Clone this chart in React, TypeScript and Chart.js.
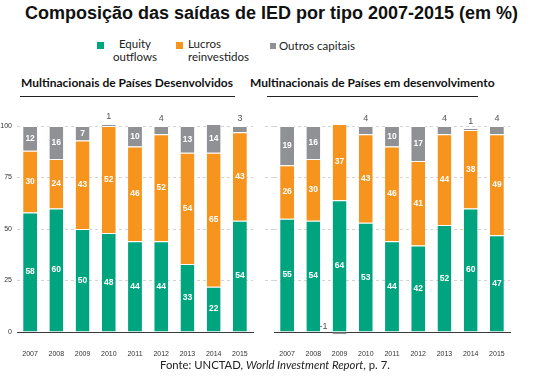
import React, { useEffect, useRef } from 'react';
import { Chart, registerables } from 'chart.js';

Chart.register(...registerables);

const years = ['2007', '2008', '2009', '2010', '2011', '2012', '2013', '2014', '2015'];
const yTicks = [0, 25, 50, 75, 100];

const devEquity = [58, 60, 50, 48, 44, 44, 33, 22, 54];
const devLucros = [30, 24, 43, 52, 46, 52, 54, 65, 43];
const devOutros = [12, 16, 7, 1, 10, 4, 13, 14, 3];

const emgEquity = [55, 54, 64, 53, 44, 42, 52, 60, 47];
const emgLucros = [26, 30, 37, 43, 46, 41, 44, 38, 49];
const emgOutros = [19, 16, -1, 4, 10, 17, 4, 1, 4];

const GREEN = '#00a47f';
const ORANGE = '#f7941d';
const GRAY = '#909195';

const SANS = "'Liberation Sans', Arial, sans-serif";
const NARROW = "'Liberation Sans Narrow', 'Liberation Sans', Arial, sans-serif";
const UI = "Lato, 'Open Sans', sans-serif";

const labelPlugin = {
  id: 'segLabels',
  afterDatasetsDraw(chart: any) {
    const ctx = chart.ctx;
    ctx.save();
    ctx.textBaseline = 'middle';
    chart.data.datasets.forEach((ds: any, di: number) => {
      const meta = chart.getDatasetMeta(di);
      meta.data.forEach((el: any, i: number) => {
        const v = ds.data[i] as number;
        const p = el.getProps(['x', 'y', 'base', 'width'], true);
        if (Math.abs(v) >= 5) {
          ctx.fillStyle = '#ffffff';
          ctx.font = `bold 8.5px ${NARROW}`;
          ctx.textAlign = 'center';
          ctx.fillText(String(v), p.x, (p.y + p.base) / 2);
        } else if (v < 0) {
          ctx.fillStyle = '#555555';
          ctx.font = `9px ${NARROW}`;
          ctx.textAlign = 'right';
          ctx.fillText(String(v), p.x - p.width / 2 - 5, p.base - 6);
        } else {
          ctx.fillStyle = '#555555';
          ctx.font = `9px ${NARROW}`;
          ctx.textAlign = 'center';
          ctx.fillText(String(v), p.x, p.y - 7);
        }
      });
    });
    ctx.restore();
  },
};

function BarPanel(props: { equity: number[]; lucros: number[]; outros: number[]; showY: boolean; width: number }) {
  const ref = useRef<HTMLCanvasElement>(null);
  useEffect(() => {
    const common = {
      borderColor: '#ffffff',
      borderWidth: { top: 1, left: 0, right: 0, bottom: 0 },
      barPercentage: 0.53,
      categoryPercentage: 1,
      clip: false as any,
    };
    const chart = new Chart(ref.current as HTMLCanvasElement, {
      type: 'bar',
      data: {
        labels: years,
        datasets: [
          { label: 'Equity outflows', data: props.equity, backgroundColor: GREEN, ...common },
          { label: 'Lucros reinvestidos', data: props.lucros, backgroundColor: ORANGE, ...common },
          { label: 'Outros capitais', data: props.outros, backgroundColor: GRAY, ...common },
        ],
      },
      options: {
        responsive: false,
        animation: false,
        layout: { padding: { top: 16, right: props.width - (props.showY ? 253 : 245), left: 0, bottom: 0 } },
        plugins: { legend: { display: false }, tooltip: { enabled: false } },
        scales: {
          x: {
            stacked: true,
            grid: { display: false },
            border: { display: true, color: '#3a3a3a', width: 1 },
            ticks: { color: '#333333', font: { size: 7, family: NARROW }, padding: 10, maxRotation: 0 },
            afterFit: (s: any) => {
              s.height = 28;
            },
          },
          y: {
            stacked: true,
            min: 0,
            max: 100,
            afterBuildTicks: (s: any) => {
              s.ticks = yTicks.map((v) => ({ value: v }));
            },
            ticks: { display: props.showY, color: '#333333', font: { size: 7, family: NARROW }, padding: 5 },
            afterFit: (s: any) => {
              s.width = props.showY ? 17 : 9;
            },
            grid: {
              color: (c: any) => (c.tick && c.tick.value === 0 ? 'rgba(0,0,0,0)' : '#d4d4d4'),
              drawTicks: !props.showY,
              tickLength: 9,
              tickBorderDash: [3, 3],
            },
            border: { display: false, dash: [3, 3] },
          },
        },
      },
      plugins: [labelPlugin],
    });
    return () => chart.destroy();
  }, []);
  return <canvas ref={ref} width={props.width} height={250} style={{ width: props.width, height: 250, display: 'block' }} />;
}

const abs = (left: number, top: number, extra: React.CSSProperties = {}): React.CSSProperties => ({
  position: 'absolute',
  left,
  top,
  whiteSpace: 'nowrap',
  ...extra,
});

export default function App() {
  return (
    <div style={{ position: 'absolute', left: 0, top: 0, width: 550, height: 378, background: '#fff', overflow: 'hidden' }}>
      <div
        style={abs(0, 4, {
          width: 543,
          textAlign: 'center',
          fontFamily: SANS,
          fontWeight: 'bold',
          fontSize: 18,
          lineHeight: '18px',
          color: '#111',
        })}
      >
        Composição das saídas de IED por tipo 2007-2015 (em %)
      </div>

      <div style={abs(97, 42, { width: 7, height: 7, background: GREEN })} />
      <div style={abs(113, 37, { fontFamily: UI, fontSize: 11.5, lineHeight: '13px', color: '#222', textAlign: 'center' })}>
        Equity
        <br />
        outflows
      </div>
      <div style={abs(176, 42, { width: 7, height: 7, background: ORANGE })} />
      <div style={abs(188, 37, { fontFamily: UI, fontSize: 11.5, lineHeight: '13px', color: '#222' })}>
        Lucros
        <br />
        reinvestidos
      </div>
      <div style={abs(270, 43, { width: 6, height: 6, background: GRAY })} />
      <div style={abs(279, 39, { fontFamily: UI, fontSize: 11.5, lineHeight: '13px', color: '#222' })}>Outros capitais</div>

      <div style={abs(21, 77, { fontFamily: UI, fontWeight: 'bold', fontSize: 12, lineHeight: '12px', color: '#111' })}>
        Multinacionais de Países Desenvolvidos
      </div>
      <div style={abs(20, 96, { width: 215, height: 1, background: '#222' })} />
      <div style={abs(250, 77, { fontFamily: UI, fontWeight: 'bold', fontSize: 12, lineHeight: '12px', color: '#111' })}>
        Multinacionais de Países em desenvolvimento
      </div>
      <div style={abs(267, 96, { width: 211, height: 1, background: '#222' })} />

      <div style={abs(0, 110, { width: 275, height: 250 })}>
        <BarPanel equity={devEquity} lucros={devLucros} outros={devOutros} showY={true} width={275} />
      </div>
      <div style={abs(265, 110, { width: 285, height: 250 })}>
        <BarPanel equity={emgEquity} lucros={emgLucros} outros={emgOutros} showY={false} width={285} />
      </div>

      <div style={abs(160, 358, { fontFamily: UI, fontSize: 11.3, lineHeight: '13px', color: '#222' })}>
        Fonte: UNCTAD, <i>World Investment Report</i>, p. 7.
      </div>
    </div>
  );
}
